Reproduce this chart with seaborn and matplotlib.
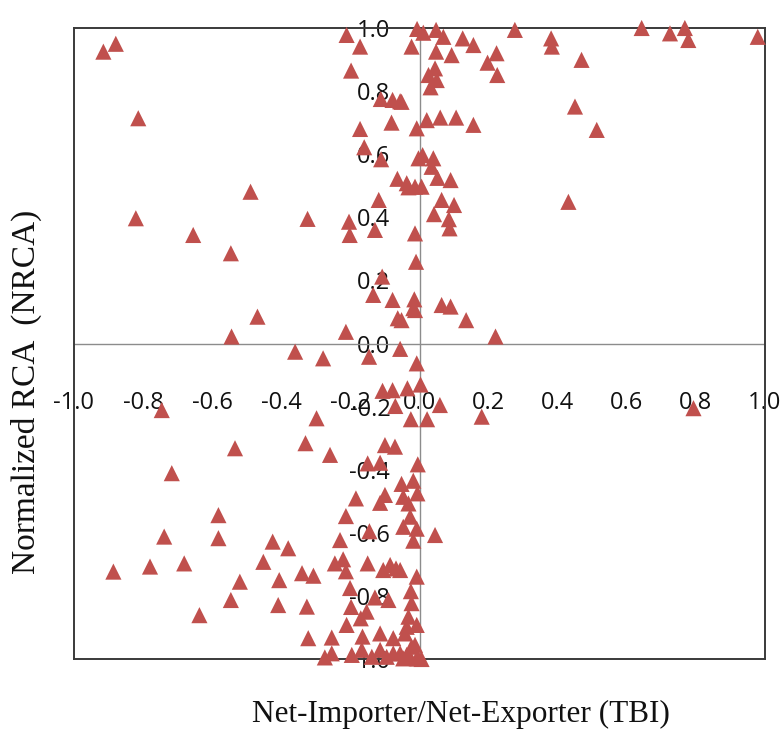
import matplotlib
matplotlib.use("Agg")
import matplotlib.pyplot as plt
import seaborn as sns
import pandas as pd

# ---- data ----
tbi = [
    -0.915, -0.879, -0.814, -0.489, -0.821, -0.324, -0.655, -0.546, -0.469, -0.544,
    -0.211, -0.172, -0.198, -0.112, -0.078, -0.056, -0.081, -0.172, -0.160, -0.111,
    -0.064, -0.032, -0.013, -0.118, -0.204, -0.202, -0.129, -0.013, -0.003, -0.008,
    -0.023, -0.007, -0.010, -0.108, -0.134, -0.078, -0.063, -0.018, -0.015, -0.213,
    0.011, 0.048, 0.069, 0.125, 0.156, 0.048, 0.093, 0.197, 0.223, 0.225,
    0.276, 0.381, 0.383, 0.469, 0.643, 0.725, 0.768, 0.778, 0.979, 0.026,
    0.045, 0.050, 0.032, -0.052, 0.450, 0.513, 0.021, 0.060, 0.106, 0.156,
    0.009, 0.040, 0.035, 0.090, -0.037, 0.006, 0.052, 0.064, 0.100, 0.042,
    0.085, 0.087, 0.431, -0.013, 0.064, 0.090, 0.135, -0.052, 0.220,
    -0.360, -0.279, -0.146, -0.056, -0.008, 0.003, 0.059, -0.025, 0.022, 0.180,
    0.793, -0.107, -0.078, -0.035, -0.070, -0.746, -0.298, -0.534, -0.330, -0.259,
    -0.717, -0.100, -0.071, -0.150, -0.114, -0.005, -0.052, -0.018, -0.006, -0.047,
    -0.184, -0.114, -0.100, -0.032, -0.027, -0.213, -0.582, -0.582, -0.739, -0.425,
    -0.380, -0.230, -0.145, -0.047, -0.008, -0.018, 0.045, -0.886, -0.780, -0.681,
    -0.452, -0.520, -0.546, -0.637, -0.406, -0.409, -0.340, -0.307, -0.326, -0.322,
    -0.245, -0.221, -0.213, -0.150, -0.085, -0.068, -0.105, -0.008, -0.056, -0.201,
    -0.198, -0.129, -0.090, -0.025, -0.023, -0.153, -0.170, -0.211, -0.254, -0.165,
    -0.114, -0.076, -0.037, -0.032, -0.008, -0.042, -0.023, -0.114, -0.076, -0.037,
    -0.274, -0.254, -0.196, -0.138, -0.167, -0.095, -0.056, -0.027, -0.003, 0.006,
    -0.047, -0.008, -0.013,
]
nrca = [
    0.925, 0.950, 0.714, 0.481, 0.397, 0.395, 0.344, 0.286, 0.085, 0.022,
    0.978, 0.941, 0.865, 0.775, 0.772, 0.768, 0.700, 0.680, 0.622, 0.584,
    0.522, 0.495, 0.497, 0.455, 0.386, 0.344, 0.360, 0.349, 0.587, 0.682,
    0.941, 0.997, 0.259, 0.212, 0.154, 0.138, 0.080, 0.112, 0.140, 0.037,
    0.985, 0.994, 0.972, 0.967, 0.946, 0.925, 0.914, 0.890, 0.920, 0.851,
    0.994, 0.967, 0.941, 0.899, 1.000, 0.983, 1.000, 0.962, 0.972, 0.851,
    0.872, 0.835, 0.812, 0.766, 0.751, 0.677, 0.708, 0.716, 0.716, 0.693,
    0.597, 0.587, 0.560, 0.518, 0.508, 0.497, 0.525, 0.455, 0.439, 0.410,
    0.394, 0.365, 0.449, 0.106, 0.122, 0.117, 0.074, 0.074, 0.022,
    -0.026, -0.047, -0.042, -0.017, -0.063, -0.130, -0.195, -0.240, -0.240, -0.232,
    -0.205, -0.150, -0.148, -0.142, -0.198, -0.211, -0.237, -0.332, -0.316, -0.353,
    -0.411, -0.322, -0.327, -0.380, -0.378, -0.383, -0.445, -0.435, -0.475, -0.486,
    -0.491, -0.505, -0.480, -0.507, -0.549, -0.547, -0.544, -0.617, -0.612, -0.628,
    -0.649, -0.623, -0.595, -0.581, -0.587, -0.625, -0.607, -0.723, -0.707, -0.697,
    -0.692, -0.755, -0.813, -0.861, -0.750, -0.829, -0.728, -0.736, -0.834, -0.934,
    -0.697, -0.684, -0.722, -0.697, -0.702, -0.713, -0.718, -0.739, -0.718, -0.775,
    -0.835, -0.805, -0.813, -0.785, -0.823, -0.850, -0.871, -0.892, -0.932, -0.929,
    -0.919, -0.934, -0.898, -0.866, -0.892, -0.919, -0.961, -0.971, -0.982, -0.987,
    -0.995, -0.982, -0.987, -0.993, -0.971, -0.993, -0.982, -0.995, -0.998, -1.000,
    -0.998, -0.998, -0.955,
]
tick_values = [-1.0, -0.8, -0.6, -0.4, -0.2, 0.0, 0.2, 0.4, 0.6, 0.8, 1.0]
tick_labels = ["-1.0", "-0.8", "-0.6", "-0.4", "-0.2", "0.0", "0.2", "0.4", "0.6", "0.8", "1.0"]
x_title = "Net-Importer/Net-Exporter (TBI)"
y_title = "Normalized RCA  (NRCA)"

df = pd.DataFrame({"TBI": tbi, "NRCA": nrca})

sns.set_theme(style="white")
plt.rcParams["font.family"] = ["Open Sans", "DejaVu Sans"]

fig = plt.figure(figsize=(7.84, 7.35), dpi=100)
ax = fig.add_axes([74 / 784, 1 - 659 / 735, (765 - 74) / 784, (659 - 28) / 735])

ax.axhline(0, color="#8c8c8c", lw=1.0, zorder=1)
ax.axvline(0, color="#8c8c8c", lw=1.0, zorder=1)

sns.scatterplot(data=df, x="TBI", y="NRCA", ax=ax, marker="^", s=135,
                color="#C0504D", edgecolor="none", linewidth=0, zorder=3,
                clip_on=False)

ax.set_xlim(-1, 1)
ax.set_ylim(-1, 1)
ax.set_xlabel("")
ax.set_ylabel("")
ax.set_xticks([])
ax.set_yticks([])
for sp in ax.spines.values():
    sp.set_visible(True)
    sp.set_color("#3a3a3a")
    sp.set_linewidth(1.4)

# tick labels along the zero axes
secx = ax.secondary_xaxis(0.5)
secx.xaxis.set_ticks_position("bottom")
secx.set_xticks(tick_values)
secx.set_xticklabels(tick_labels)
secx.tick_params(axis="x", length=0, pad=34, labelsize=17, labelcolor="#111111",
                 labelbottom=True, labeltop=False)
secx.spines["bottom"].set_visible(False)
secx.spines["top"].set_visible(False)

secy = ax.secondary_yaxis(0.5)
secy.yaxis.set_ticks_position("left")
secy.set_yticks(tick_values)
secy.set_yticklabels(tick_labels)
secy.tick_params(axis="y", length=0, pad=21, labelsize=17, labelcolor="#111111",
                 labelleft=True, labelright=False)
secy.spines["left"].set_visible(False)
secy.spines["right"].set_visible(False)

fig.text(461 / 784, 1 - 714 / 735, x_title, ha="center", va="center",
         fontsize=22.5, family=["Liberation Serif", "DejaVu Serif"], color="#111111")
fig.text(26 / 784, 1 - 392 / 735, y_title, ha="center", va="center",
         rotation=90, fontsize=24, family=["Liberation Serif", "DejaVu Serif"],
         color="#111111")

fig.savefig("out.png", dpi=100)
